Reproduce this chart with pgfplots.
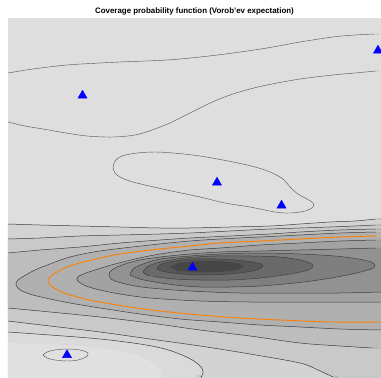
\documentclass[border=0pt]{standalone}
\usepackage{fontspec}
\setmainfont{Liberation Sans}
\usepackage{pgfplots}
\pgfplotsset{compat=1.18}

% grey levels of the filled coverage function (light = high coverage)
\definecolor{bg}{HTML}{DEDEDE}
\definecolor{bl}{HTML}{DADADA}
\definecolor{halo}{HTML}{E0E0E0}
\definecolor{b9}{HTML}{D3D3D3}
\definecolor{b8}{HTML}{C9C9C9}
\definecolor{b7}{HTML}{BDBDBD}
\definecolor{b6}{HTML}{B0B0B0}
\definecolor{b5}{HTML}{A2A2A2}
\definecolor{b4}{HTML}{929292}
\definecolor{b3}{HTML}{7F7F7F}
\definecolor{b2}{HTML}{6A6A6A}
\definecolor{b1}{HTML}{575757}
\definecolor{b0}{HTML}{464646}
\definecolor{cline}{HTML}{3C3C3C}
\definecolor{tline}{HTML}{5A5A5A}
\definecolor{vorob}{HTML}{FF8000}

\tikzset{lbl/.style={font=\fontsize{3}{3}\selectfont, text=black!45, inner sep=0pt, anchor=west}}

\begin{document}
\begin{tikzpicture}[x=1pt,y=1pt]
\useasboundingbox (0,0) rectangle (381,378);
\begin{axis}[
  at={(8pt,0pt)}, anchor=south west,
  scale only axis, width=373pt, height=360pt,
  xmin=8, xmax=381, ymin=18, ymax=378, y dir=reverse,
  hide axis,
  axis background/.style={fill=bg},
  title={\bfseries Coverage probability function (Vorob'ev expectation)},
  every axis title/.style={at={(0.5,1)}, anchor=base, yshift=5pt, font=\fontsize{7.9}{9}\selectfont},
  clvl/.style={draw=cline, line width=0.5pt, smooth, tension=0.55, mark=none},
  tlvl/.style={draw=tline, line width=0.45pt, smooth, tension=0.55, mark=none},
  band/.style={draw=none, mark=none},
]
% ---- filled bands ----
\addplot[band, fill=bl] coordinates {(8,332) (50,335) (100,339) (140,344) (165,349) (182,355) (194,361) (201,367) (203,372) (201,378) (8,378)} -- cycle;
\addplot[band, fill=halo] coordinates {(8,343) (40,344) (80,346) (115,350) (140,356) (155,364) (161,372) (162,378) (8,378)} -- cycle;
% below 0.9
\addplot[band, fill=b9] coordinates {(8,224) (40,225) (80,226) (120,227) (160,228) (190,228) (230,227) (270,226) (300,224) (330,222) (355,221) (376,219) (381,219) (381,378) (201,378) (203,372) (201,367) (194,361) (182,355) (165,349) (140,344) (100,339) (50,335) (8,332)} -- cycle;
% below 0.8
\addplot[band, fill=b8] coordinates {(8,239) (40,238) (80,236) (120,235) (160,234) (190,233) (230,231) (270,229) (300,228) (330,227) (355,226) (376,225) (381,225) (381,378) (336,378) (333,377) (318,370) (300,363) (250,354) (200,346) (150,339) (100,332) (50,326) (8,321)} -- cycle;
% below 0.7
\addplot[band, fill=b7] coordinates {(8,253) (40,250) (80,247) (120,243) (160,240) (190,238) (230,236) (270,234) (300,232) (340,230) (376,229) (381,229) (381,349) (372,348) (340,346) (300,343) (250,336) (200,330) (150,323) (100,317) (50,312) (8,308)} -- cycle;
% below 0.6
\addplot[band, fill=b6] coordinates {(381,232) (340,233) (300,235) (260,237) (220,239) (190,241) (150,245) (100,251) (70,257) (50,264) (35,270) (24,276) (18,280) (16,283) (17,287) (22,291) (33,295) (50,299) (70,303) (100,308) (140,314) (180,319) (220,322) (260,325) (300,327) (340,329) (381,330)} -- cycle;
% below 0.5
\addplot[band, fill=b5] coordinates {(381,240) (340,241) (300,243) (260,245) (220,248) (190,250) (160,254) (135,259) (115,264) (98,269) (86,273) (79,276) (77,279) (79,282) (86,286) (100,290) (120,294) (150,298) (200,301) (250,302) (300,302) (381,302)} -- cycle;
% below 0.4
\addplot[band, fill=b4] coordinates {(381,248) (340,249) (300,250) (260,251) (220,252) (190,254) (160,257) (140,260) (125,264) (115,268) (110,272) (109,275) (111,279) (118,282) (130,285) (150,288) (190,291) (240,293) (300,293) (340,293) (381,292)} -- cycle;
% below 0.3
\addplot[band, fill=b3] coordinates {(130,275) (133,269) (143,264) (160,259) (190,256) (220,254) (260,253) (300,254) (335,256) (358,259) (371,262) (375,265) (371,269) (352,274) (325,279) (295,283) (260,286) (230,287) (200,287) (175,285) (155,282) (140,279)} -- cycle;
% below 0.2
\addplot[band, fill=b2] coordinates {(143,272) (147,267) (160,262) (185,258) (215,256) (250,256) (280,257) (300,260) (310,263) (313,266) (308,270) (290,274) (260,278) (230,280) (200,280) (175,279) (157,277) (147,275)} -- cycle;
% below 0.1
\addplot[band, fill=b1] coordinates {(157,268) (162,264) (176,261) (195,259) (215,259) (235,260) (252,262) (261,264) (263,266) (259,269) (247,272) (228,274) (205,275) (182,274) (166,272) (159,270)} -- cycle;
\addplot[band, fill=b0] coordinates {(170,267) (178,263) (195,261) (220,261) (238,263) (244,266) (238,270) (220,272) (195,272) (178,271)} -- cycle;

% ---- contour lines, level 1 ----
\addplot[tlvl] coordinates {(8,73) (33,69) (67,65) (100,63) (120,62) (167,60) (200,57) (233,53) (267,48) (300,42) (333,37) (355,35) (375,34)};
\addplot[tlvl] coordinates {(8,122) (25,126) (43,129) (60,132) (87,136) (113,137) (135,135) (152,130) (172,122) (200,108) (217,100) (233,94) (250,89) (267,85) (300,79) (333,75) (355,73) (376,71)};
\addplot[tlvl] coordinates {(113,168) (115,161) (122,156) (137,153) (155,152) (173,153) (200,156) (233,162) (255,167) (270,172) (283,179) (290,187) (298,194) (307,199) (313,203) (313,207) (305,211) (290,213) (275,212) (250,207) (225,203) (200,197) (167,190) (133,182) (120,177) (115,173) (113,168)};
\addplot[tlvl] coordinates {(43,355) (47,352) (55,350) (67,349) (80,350) (88,353) (86,357) (78,360) (67,361) (55,360) (47,358) (43,355)};

% ---- contour lines, lower levels ----
\addplot[clvl] coordinates {(8,224) (40,225) (80,226) (120,227) (160,228) (190,228) (230,227) (270,226) (300,224) (330,222) (355,221) (376,219)};
\addplot[clvl] coordinates {(8,239) (40,238) (80,236) (120,235) (160,234) (190,233) (230,231) (270,229) (300,228) (330,227) (355,226) (376,225)};
\addplot[clvl] coordinates {(8,253) (40,250) (80,247) (120,243) (160,240) (190,238) (230,236) (270,234) (300,232) (340,230) (376,229)};
\addplot[clvl] coordinates {(376,232) (340,233) (300,235) (260,237) (220,239) (190,241) (150,245) (100,251) (70,257) (50,264) (35,270) (24,276) (18,280) (16,283) (17,287) (22,291) (33,295) (50,299) (70,303) (100,308) (140,314) (180,319) (220,322) (260,325) (300,327) (340,329) (381,330)};
\addplot[clvl] coordinates {(376,240) (340,241) (300,243) (260,245) (220,248) (190,250) (160,254) (135,259) (115,264) (98,269) (86,273) (79,276) (77,279) (79,282) (86,286) (100,290) (120,294) (150,298) (200,301) (250,302) (300,302) (381,302)};
\addplot[clvl] coordinates {(376,248) (340,249) (300,250) (260,251) (220,252) (190,254) (160,257) (140,260) (125,264) (115,268) (110,272) (109,275) (111,279) (118,282) (130,285) (150,288) (190,291) (240,293) (300,293) (340,293) (381,292)};
\addplot[clvl] coordinates {(130,275) (133,269) (143,264) (160,259) (190,256) (220,254) (260,253) (300,254) (335,256) (358,259) (371,262) (375,265) (371,269) (352,274) (325,279) (295,283) (260,286) (230,287) (200,287) (175,285) (155,282) (140,279) (130,275)};
\addplot[clvl] coordinates {(143,272) (147,267) (160,262) (185,258) (215,256) (250,256) (280,257) (300,260) (310,263) (313,266) (308,270) (290,274) (260,278) (230,280) (200,280) (175,279) (157,277) (147,275) (143,272)};
\addplot[clvl] coordinates {(157,268) (162,264) (176,261) (195,259) (215,259) (235,260) (252,262) (261,264) (263,266) (259,269) (247,272) (228,274) (205,275) (182,274) (166,272) (159,270) (157,268)};
\addplot[clvl] coordinates {(8,308) (50,312) (100,317) (150,323) (200,330) (250,336) (300,343) (340,346) (372,348)};
\addplot[clvl] coordinates {(8,321) (50,326) (100,332) (150,339) (200,346) (250,354) (300,363) (318,370) (333,377)};
\addplot[clvl] coordinates {(8,332) (50,335) (100,339) (140,344) (165,349) (182,355) (194,361) (201,367) (203,372) (201,378)};

% ---- Vorob'ev expectation boundary ----
\addplot[draw=vorob, line width=0.9pt, smooth, tension=0.55, mark=none] coordinates {(376,236) (340,237) (300,239) (260,241) (220,243) (190,246) (150,250) (120,254) (100,258) (80,263) (67,267) (57,272) (51,276) (48,280) (50,285) (56,289) (67,294) (85,299) (100,302) (130,307) (160,311) (200,315) (240,318) (280,320) (333,322) (381,322)};

% ---- design points ----
\addplot[only marks, mark=triangle*, mark size=5.3pt, mark options={fill=blue, draw=blue}] coordinates {(82.5,95.5) (378,50.5) (217,182.5) (281.5,205.5) (192.5,267.5) (67,355)};

% ---- contour labels ----
\node[lbl] at (axis cs:377,34) {1};
\node[lbl] at (axis cs:377,71) {1};
\node[lbl] at (axis cs:377,219) {0.9};
\node[lbl] at (axis cs:377,225) {0.8};
\node[lbl] at (axis cs:377,229) {0.7};
\node[lbl, text=vorob!50] at (axis cs:377,236) {0.6};
\node[lbl] at (axis cs:377,240) {0.5};
\node[lbl] at (axis cs:377,248) {0.4};
\node[lbl] at (axis cs:373,348) {0.7};
\node[lbl] at (axis cs:334,377) {0.8};
\node[lbl] at (axis cs:197,376) {0.9};
\node[lbl] at (axis cs:131,280) {0.3};
\node[lbl] at (axis cs:150,276) {0.2};
\end{axis}
\end{tikzpicture}
\end{document}
